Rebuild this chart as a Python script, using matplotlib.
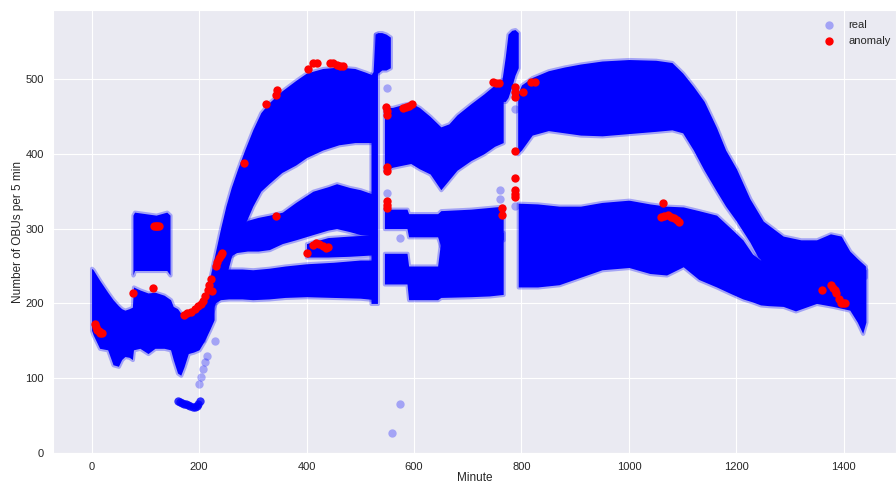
import numpy as np
import matplotlib
matplotlib.use("Agg")
import matplotlib.pyplot as plt
import seaborn as sns

sns.set_style("darkgrid")
plt.rcParams['font.family'] = ['Liberation Sans', 'DejaVu Sans']

# ── blue point cloud, read as bands: (minute, lower edge, upper edge) ─────────
low_min = [0, 3, 15, 30, 40, 50, 56, 62, 70, 76, 78, 90, 105, 118, 135, 147,
           152, 160, 166, 172, 180, 190, 200, 210, 220, 228]
low_hi = [247, 245, 231, 215, 205, 197, 193, 191, 193, 195, 222, 218, 214,
          215, 211, 205, 196, 193, 187, 186, 187, 190, 196, 205, 222, 250]
low_lo = [164, 158, 140, 138, 118, 116, 125, 129, 128, 125, 138, 140, 133,
          140, 140, 138, 125, 107, 104, 115, 133, 135, 138, 150, 165, 178]

blk_min = [77, 80, 100, 120, 140, 146]
blk_hi = [318, 322, 320, 318, 322, 318]
blk_lo = [238, 244, 244, 244, 244, 238]

rise_min = [208, 215, 222, 230, 240, 250, 260, 272, 285, 300, 315, 330, 354,
            380, 400, 430, 460, 490, 510, 524]
rise_hi = [200, 215, 240, 267, 300, 330, 355, 380, 405, 432, 455, 468, 484,
           498, 508, 514, 516, 514, 509, 505]
rise_lo = [150, 170, 185, 200, 215, 235, 262, 285, 305, 330, 350, 360, 375,
           385, 395, 405, 412, 415, 415, 415]

mid_min = [255, 270, 290, 310, 331, 355, 380, 412, 440, 456, 480, 500, 528]
mid_hi = [285, 300, 311, 315, 318, 322, 335, 350, 356, 360, 355, 352, 345]
mid_lo = [262, 268, 270, 270, 272, 280, 285, 292, 298, 300, 296, 292, 290]

strand_min = [400, 440, 480, 528]
strand_hi = [280, 288, 290, 292]
strand_lo = [262, 262, 263, 265]

lower_min = [228, 240, 255, 280, 300, 330, 360, 400, 450, 500, 528]
lower_hi = [240, 245, 246, 246, 245, 247, 250, 253, 255, 258, 258]
lower_lo = [200, 205, 206, 206, 205, 206, 208, 209, 208, 207, 205]

sp1_min = [520, 524, 528, 532]
sp1_hi = [505, 510, 560, 560]
sp1_lo = [200, 200, 200, 200]

top1_min = [528, 533, 540, 548, 556]
top1_hi = [560, 562, 562, 560, 556]
top1_lo = [508, 508, 512, 512, 515]

dup_min = [545, 560, 580, 594, 610, 630, 650, 665, 680, 706, 730, 750, 766]
dup_hi = [462, 462, 466, 468, 462, 450, 436, 440, 452, 467, 480, 492, 500]
dup_lo = [378, 382, 385, 387, 380, 373, 352, 365, 378, 391, 400, 410, 415]

dmid_min = [545, 587, 590, 644, 650, 706, 766]
dmid_hi = [326, 326, 320, 320, 324, 326, 330]
dmid_lo = [300, 300, 289, 289, 276, 278, 285]

dlow_min = [545, 587, 590, 644, 650, 706, 740, 766]
dlow_hi = [267, 267, 250, 250, 285, 290, 295, 295]
dlow_lo = [226, 226, 205, 205, 208, 209, 210, 212]

sp2_min = [764, 770, 775, 782, 788, 794]
sp2_hi = [500, 530, 560, 565, 566, 562]
sp2_lo = [470, 470, 475, 490, 505, 515]

eup_min = [793, 800, 820, 850, 880, 910, 950, 1000, 1050, 1080, 1100, 1120,
           1140, 1163, 1180, 1200, 1225, 1240, 1250, 1287, 1320, 1349, 1375,
           1395, 1411, 1425, 1440]
eup_hi = [480, 492, 502, 511, 516, 520, 524, 526, 525, 522, 508, 490, 470,
          435, 405, 380, 340, 322, 310, 290, 285, 285, 293, 290, 270, 260, 250]
eup_lo = [400, 405, 425, 431, 428, 425, 424, 427, 430, 432, 428, 405, 378,
          350, 330, 310, 282, 262, 255, 255, 255, 255, 255, 250, 245, 240, 235]

elow_min = [794, 830, 870, 910, 950, 1000, 1039, 1070, 1101, 1130, 1163, 1190,
            1212, 1230, 1245, 1260, 1287, 1310, 1349, 1380, 1411, 1425, 1435,
            1441]
elow_hi = [334, 333, 330, 330, 335, 338, 333, 330, 329, 324, 318, 300, 285,
           266, 258, 270, 270, 270, 270, 270, 265, 255, 250, 245]
elow_lo = [222, 222, 225, 235, 245, 248, 240, 238, 249, 232, 222, 213, 206,
           202, 198, 197, 196, 190, 200, 196, 191, 175, 160, 175]

BANDS = [
    (low_min, low_lo, low_hi), (blk_min, blk_lo, blk_hi),
    (rise_min, rise_lo, rise_hi), (mid_min, mid_lo, mid_hi),
    (strand_min, strand_lo, strand_hi), (lower_min, lower_lo, lower_hi),
    (sp1_min, sp1_lo, sp1_hi), (top1_min, top1_lo, top1_hi),
    (dup_min, dup_lo, dup_hi), (dmid_min, dmid_lo, dmid_hi),
    (dlow_min, dlow_lo, dlow_hi), (sp2_min, sp2_lo, sp2_hi),
    (eup_min, eup_lo, eup_hi), (elow_min, elow_lo, elow_hi),
]

# dense little cluster under the morning dip
dip_min = [160, 164, 168, 172, 176, 180, 184, 188, 192, 196, 199, 202]
dip_val = [70, 68, 67, 66, 65, 64, 63, 62, 62, 63, 66, 70]

# single faint "real" points outside the bands
real_min = [559, 574, 549, 549, 574, 468, 200, 204, 207, 211, 788, 788, 760,
            760, 1064, 215, 230]
real_val = [27, 65, 488, 347, 287, 278, 92, 102, 112, 122, 460, 330, 340,
            352, 310, 130, 150]

# anomalies
anom_min = [7, 9, 11, 13, 16, 19, 78, 114, 116, 119, 122, 125,
            172, 178, 185, 192, 198, 204, 208, 212, 216, 219, 222, 224,
            231, 234, 237, 240, 243, 284, 325, 344, 345, 344,
            403, 412, 419, 443, 450, 457, 463, 468,
            401, 413, 418, 424, 430, 436, 440,
            548, 549, 549, 549, 549, 549, 549, 549,
            580, 585, 590, 596, 747, 752, 758, 763, 763,
            788, 788, 788, 803, 818, 825, 788, 788, 788, 788, 788,
            1063, 1060, 1066, 1072, 1078, 1084, 1090, 1094,
            1359, 1376, 1380, 1384, 1386, 1390, 1394, 1398, 1403]
anom_val = [172, 168, 165, 163, 161, 160, 214, 221, 303, 304, 304, 304,
            184, 187, 189, 192, 196, 199, 203, 210, 218, 225, 232, 216,
            250, 256, 261, 265, 268, 388, 466, 479, 485, 317,
            513, 522, 522, 521, 521, 519, 518, 517,
            267, 278, 281, 279, 277, 274, 275,
            462, 457, 452, 382, 377, 337, 332, 327,
            461, 463, 464, 467, 496, 495, 494, 327, 318,
            489, 483, 476, 482, 496, 496, 404, 367, 351, 346, 342,
            334, 316, 317, 318, 316, 314, 311, 309,
            218, 224, 221, 218, 214, 206, 201, 200, 200]

fig = plt.figure(figsize=(8.96, 4.83), dpi=100)
ax = fig.add_axes([0.059, 0.062, 0.941, 0.917])

for m, lo, hi in BANDS:
    ax.fill_between(m, lo, hi, facecolor=(0, 0, 1, 1),
                    edgecolor=(0, 0, 1, 0.3), linewidth=3, zorder=2)

ax.scatter(dip_min, dip_val, s=36, color='blue', alpha=0.8, lw=0, zorder=2)
ax.scatter(real_min, real_val, s=36, color='blue', alpha=0.3, lw=0,
           label='real', zorder=3)
ax.scatter(anom_min, anom_val, s=36, color='red', lw=0, label='anomaly',
           zorder=4)

ax.set_xlim(-72, 1497)
ax.set_ylim(0, 592)
ax.set_xticks(range(0, 1401, 200))
ax.set_yticks(range(0, 501, 100))
ax.tick_params(labelsize=8, pad=3)
ax.set_xlabel('Minute', fontsize=8.5, labelpad=0)
ax.set_ylabel('Number of OBUs per 5 min', fontsize=8.5, labelpad=1)
ax.legend(loc='upper right', bbox_to_anchor=(1.006, 1.0), fontsize=8,
          frameon=False, handletextpad=0.8)

fig.savefig('out.png', dpi=100)
